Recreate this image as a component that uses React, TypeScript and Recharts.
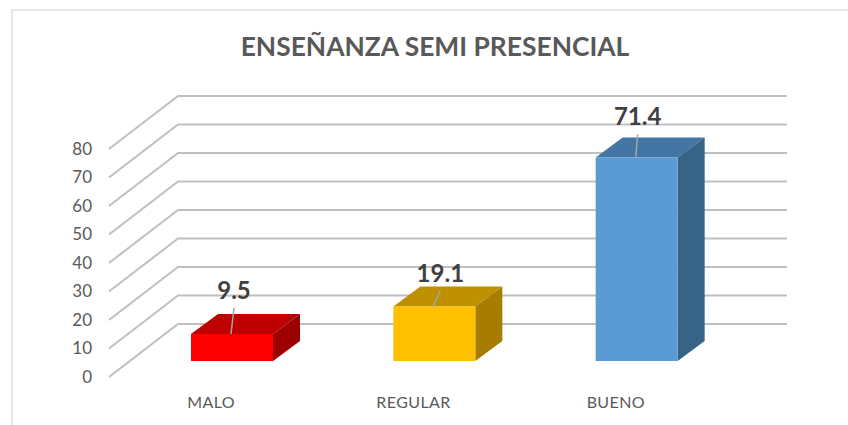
import React from "react";
import { BarChart, Bar, XAxis, YAxis, CartesianGrid, LabelList, Cell } from "recharts";

const categories = ["MALO", "REGULAR", "BUENO"];
const values = [9.5, 19.1, 71.4];
const yTicks = [0, 10, 20, 30, 40, 50, 60, 70, 80];
const frontColors = ["#ff0000", "#ffc000", "#5b9bd5"];
const topColors = ["#bf0000", "#bf9000", "#4275a3"];
const sideColors = ["#9c0000", "#a67d00", "#376387"];
const labelNudgeX = [2, 6, 1];
const labelRise = [44, 34, 42];
const leaderRise = [26, 16, 23];

const rows = categories.map((name, i) => ({ name, value: values[i] }));

const FONT = "Lato, 'Open Sans', sans-serif";
const DEPTH_X = 27;
const DEPTH_Y = 20;

function Box3D(props: any) {
  const { x, y, width, height, index } = props;
  const r = x + width;
  const b = y + height;
  return (
    <g>
      <polygon
        points={`${x},${y} ${x + DEPTH_X},${y - DEPTH_Y} ${r + DEPTH_X},${y - DEPTH_Y} ${r},${y}`}
        fill={topColors[index]}
      />
      <polygon
        points={`${r},${y} ${r + DEPTH_X},${y - DEPTH_Y} ${r + DEPTH_X},${b - DEPTH_Y} ${r},${b}`}
        fill={sideColors[index]}
      />
      <rect x={x} y={y} width={width} height={height} fill={frontColors[index]} />
    </g>
  );
}

function DataLabel(props: any) {
  const { x, y, width, value, index } = props;
  const cx = x + width / 2;
  return (
    <g>
      <line
        x1={cx - 1}
        y1={y}
        x2={cx + labelNudgeX[index]}
        y2={y - leaderRise[index]}
        stroke="#a6a6a6"
        strokeWidth={1.5}
      />
      <text
        x={cx + labelNudgeX[index]}
        y={y - labelRise[index]}
        textAnchor="middle"
        dominantBaseline="central"
        fontFamily={FONT}
        fontSize={24}
        fontWeight={700}
        fill="#404040"
      >
        {value}
      </text>
    </g>
  );
}

function gridLine(props: any) {
  const { x1, y1, key, index } = props;
  const fx = x1 - 22;
  const bx = fx + 69;
  return (
    <polyline
      key={key ?? index}
      points={`${fx},${y1 + 16} ${bx},${y1 - 37} 787,${y1 - 37}`}
      fill="none"
      stroke="#bfbfbf"
      strokeWidth={2}
    />
  );
}

function YTick(props: any) {
  const { y, payload } = props;
  return (
    <text
      x={92}
      y={y + 15}
      textAnchor="end"
      dominantBaseline="central"
      fontFamily={FONT}
      fontSize={17}
      fill="#595959"
    >
      {payload.value}
    </text>
  );
}

function XTick(props: any) {
  const { x, payload } = props;
  return (
    <text
      x={x - 21}
      y={401}
      textAnchor="middle"
      dominantBaseline="central"
      fontFamily={FONT}
      fontSize={16}
      letterSpacing={0.4}
      fill="#595959"
    >
      {payload.value}
    </text>
  );
}

export default function App() {
  return (
    <div style={{ position: "absolute", left: 0, top: 0, width: 848, height: 425, background: "#fff", overflow: "hidden" }}>
      <div
        style={{
          position: "absolute",
          left: 11,
          top: 9,
          width: 860,
          height: 440,
          border: "2px solid #e8e8e8",
          boxSizing: "border-box",
        }}
      />
      <div style={{ position: "absolute", left: 0, top: 0 }}>
        <BarChart
          width={848}
          height={425}
          data={rows}
          barSize={82}
          margin={{ left: 101, right: 110, top: 133, bottom: 34 }}
        >
          <text
            x={435}
            y={46}
            textAnchor="middle"
            dominantBaseline="central"
            fontFamily={FONT}
            fontSize={26.4}
            fontWeight={700}
            fill="#595959"
          >
            ENSEÑANZA SEMI PRESENCIAL
          </text>
          <CartesianGrid horizontal={gridLine} vertical={false} />
          <XAxis dataKey="name" height={30} axisLine={false} tickLine={false} tick={<XTick />} interval={0} />
          <YAxis
            width={30}
            domain={[0, 80]}
            ticks={yTicks}
            axisLine={false}
            tickLine={false}
            tick={<YTick />}
            interval={0}
          />
          <Bar dataKey="value" shape={<Box3D />} isAnimationActive={false}>
            {rows.map((r, i) => (
              <Cell key={r.name} fill={frontColors[i]} />
            ))}
            <LabelList dataKey="value" content={<DataLabel />} />
          </Bar>
        </BarChart>
      </div>
    </div>
  );
}
